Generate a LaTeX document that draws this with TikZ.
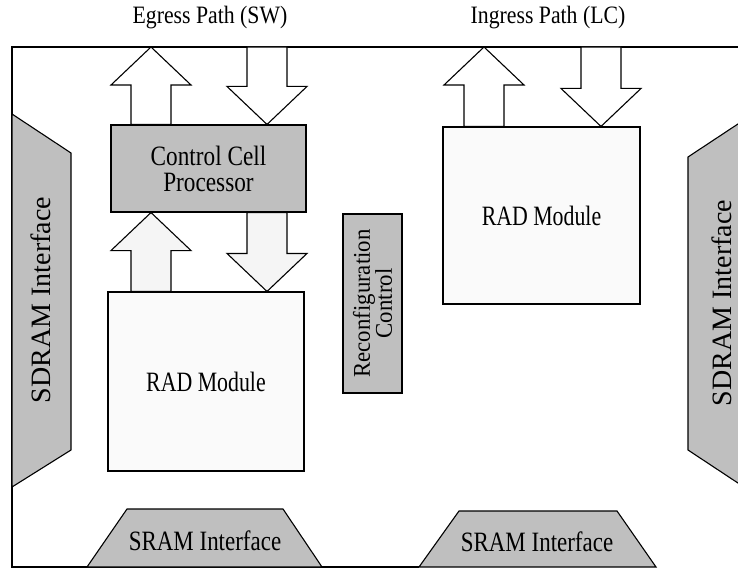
\documentclass[tikz,border=0pt]{standalone}
\usepackage{fontspec}
\setmainfont{Liberation Serif}
\usetikzlibrary{calc}

% squeeze a label sideways
\newcommand{\sq}[2][0.8]{\scalebox{#1}[1]{#2}}
% fat block arrow from tail (#2) to tip (#3)
\newcommand{\fatarrow}[3][]{%
  \path[#1] let \p1=(#2), \p2=(#3), \n1={sign(\y2-\y1)} in
    (\x1-20pt,\y1) -- (\x1-20pt,\y2-\n1*38pt) -- (\x2-40pt,\y2-\n1*38pt) -- (\p2)
    -- (\x2+40pt,\y2-\n1*38pt) -- (\x1+20pt,\y2-\n1*38pt) -- (\x1+20pt,\y1) -- cycle;}

\begin{document}
\begin{tikzpicture}[x=1pt,y=-1pt,line width=1.1pt,
    box/.style={draw,rectangle,inner sep=0pt,align=center,font=\fontsize{28}{26}\selectfont},
    iface/.style={draw,fill=gray!50},
    fat/.style={draw,fill=white,line join=miter},
    lbl/.style={font=\fontsize{28}{26}\selectfont,align=center,inner sep=0pt},
    pathlabel/.style={font=\fontsize{25}{27}\selectfont,inner sep=0pt}]

  \useasboundingbox (0,0) rectangle (738,569);
  \clip (0,0) rectangle (738,569);

  % outer frame
  \draw[line width=1.3pt] (750,47) -- (12,47) -- (12,567) -- (419,567);

  \node[pathlabel] (egress) at (210,18) {\sq[0.87]{Egress Path (SW)}};
  \node[pathlabel] (ingress) at (548,18) {\sq[0.87]{Ingress Path (LC)}};

  \coordinate (egup) at (151,47);
  \coordinate (egdn) at (267,47);
  \coordinate (inup) at (484,47);
  \coordinate (indn) at (601,47);

  % memory interfaces
  \draw[iface] (12,114) -- (71,153) -- (71,450) -- (12,487) -- cycle;
  \node[lbl,rotate=90] (sdramL) at (41,300) {\sq[1]{SDRAM Interface}};
  \draw[iface] (688,157) -- (750,116) -- (750,491) -- (688,450) -- cycle;
  \node[lbl,rotate=90] (sdramR) at (722,303) {\sq[1]{SDRAM Interface}};

  \draw[iface] (87,567) -- (127,509) -- (283,509) -- (322,567) -- cycle;
  \node[lbl] (sramL) at (205,541) {\sq[0.82]{SRAM Interface}};
  \draw[iface] (419,567) -- (459,511) -- (617,511) -- (656,567) -- cycle;
  \node[lbl] (sramR) at (537,542) {\sq[0.82]{SRAM Interface}};

  % blocks
  \node[box,fill=gray!50,minimum width=195,minimum height=87] (ccp) at (208.5,168.5)
    {\sq[0.83]{Control Cell}\\\sq[0.83]{Processor}};
  \node[box,fill=gray!4,minimum width=196,minimum height=179] (radA) at (206,381.5)
    {\sq[0.78]{RAD Module}};
  \node[box,fill=gray!4,minimum width=197,minimum height=177] (radB) at (541.5,215.5)
    {\sq[0.78]{RAD Module}};
  \node[box,fill=gray!50,rotate=90,minimum width=179,minimum height=59,
        font=\fontsize{24}{22}\selectfont] (reconf) at (372.5,303.5)
    {\sq[0.95]{Reconfiguration}\\\sq[0.95]{Control}};

  % data paths
  \fatarrow[fat]{ccp.north -| egup}{egup}
  \fatarrow[fat]{egdn}{ccp.north -| egdn}
  \fatarrow[fat,fill=gray!8]{radA.north -| egup}{ccp.south -| egup}
  \fatarrow[fat,fill=gray!8]{ccp.south -| egdn}{radA.north -| egdn}
  \fatarrow[fat]{radB.north -| inup}{inup}
  \fatarrow[fat]{indn}{radB.north -| indn}

\end{tikzpicture}
\end{document}
